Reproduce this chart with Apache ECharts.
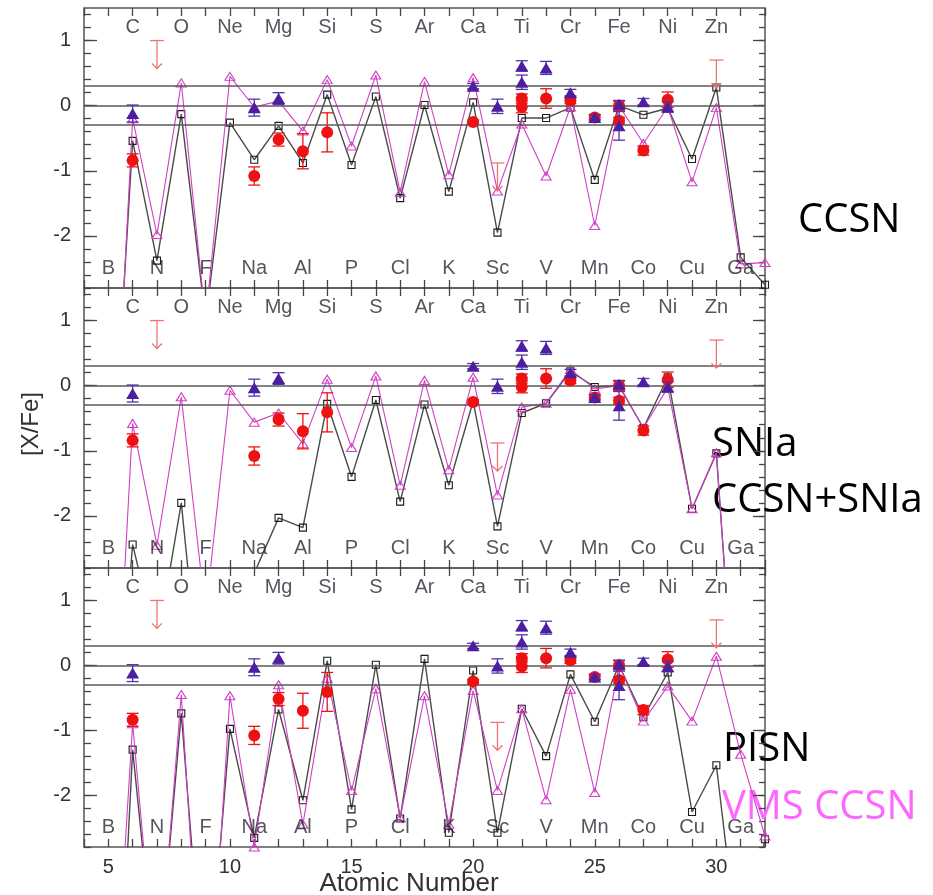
<!DOCTYPE html>
<html>
<head>
<meta charset="utf-8">
<script src="https://cdn.jsdelivr.net/npm/echarts@6/dist/echarts.min.js"></script>
<style>
  html, body { margin: 0; padding: 0; background: #ffffff; }
  #chart { width: 933px; height: 895px; }
</style>
</head>
<body>
<div id="chart"></div>
<script>
// ---- Element symbols for Z = 5 .. 31 (even Z printed along the top, odd Z along the bottom)
const elementZ = [5,6,7,8,9,10,11,12,13,14,15,16,17,18,19,20,21,22,23,24,25,26,27,28,29,30,31];
const elementNames = ['B','C','N','O','F','Ne','Na','Mg','Al','Si','P','S','Cl','Ar','K','Ca','Sc','Ti','V','Cr','Mn','Fe','Co','Ni','Cu','Zn','Ga'];

// ---- Model yields [X/Fe], Z = 5 .. 32
const modelZ = [5,6,7,8,9,10,11,12,13,14,15,16,17,18,19,20,21,22,23,24,25,26,27,28,29,30,31,32];
const ccsnSquares  = [-6.8,-0.54,-2.38,-0.13,-3.3,-0.26,-0.83,-0.31,-0.88,0.17,-0.91,0.14,-1.42,0.01,-1.32,0.05,-1.95,-0.19,-0.19,-0.03,-1.14,0.00,-0.14,-0.04,-0.82,0.28,-2.33,-2.75];
const ccsnTriangles = [-7.4,-0.20,-1.98,0.35,-3.3,0.45,-0.02,0.07,-0.39,0.40,-0.62,0.47,-1.33,0.37,-1.06,0.43,-1.31,-0.28,-1.08,-0.02,-1.84,0.00,-0.58,-0.02,-1.17,-0.03,-2.43,-2.41];
const snIa         = [-7.0,-2.44,-4.0,-1.80,-5.5,-5.0,-2.88,-2.03,-2.18,-0.28,-1.40,-0.22,-1.78,-0.29,-1.53,-0.24,-2.16,-0.42,-0.27,0.22,-0.02,0.00,-0.65,0.13,-1.89,-1.04,-6.3,-6.5];
const ccsnPlusSnIa = [-7.5,-0.58,-2.45,-0.17,-3.5,-0.07,-0.56,-0.42,-0.89,0.10,-0.95,0.15,-1.53,0.08,-1.29,0.13,-1.68,-0.33,-0.27,0.25,-0.05,0.00,-0.65,-0.03,-1.89,-1.03,-6.3,-6.5];
const pisn         = [-8.8,-1.30,-5.0,-0.74,-5.5,-0.98,-2.66,-0.68,-2.08,0.07,-2.22,0.01,-2.36,0.10,-2.58,-0.08,-2.58,-0.67,-1.40,-0.14,-0.87,0.00,-0.80,-0.11,-2.26,-1.54,-4.7,-2.68];
const vmsCcsn      = [-7.0,-0.90,-5.1,-0.45,-6.4,-0.47,-2.80,-0.30,-2.45,-0.20,-1.93,-0.36,-2.35,-0.47,-2.45,-0.39,-1.93,-0.67,-2.07,-0.37,-1.96,0.00,-0.86,-0.32,-0.86,0.14,-1.37,-2.63];

// ---- Observed abundances (same in every panel)
const obsRedZ   = [6, 11, 12, 13, 14, 20, 22, 22, 23, 24, 25, 26, 26, 27, 28];
const obsRedVal = [-0.84, -1.08, -0.52, -0.70, -0.41, -0.25, 0.11, -0.02, 0.11, 0.08, -0.18, 0.00, -0.23, -0.69, 0.09];
const obsRedErr = [0.10, 0.14, 0.10, 0.27, 0.30, 0.03, 0.07, 0.09, 0.15, 0.05, 0.04, 0.07, 0.05, 0.07, 0.12];

const obsBlueZ   = [6, 11, 12, 20, 21, 22, 22, 23, 24, 25, 26, 26, 27, 28];
const obsBlueVal = [-0.12, -0.03, 0.11, 0.30, -0.01, 0.61, 0.36, 0.58, 0.20, -0.18, 0.02, -0.31, 0.06, -0.02];
const obsBlueErr = [0.13, 0.13, 0.09, 0.04, 0.11, 0.08, 0.11, 0.10, 0.05, 0.04, 0.06, 0.22, 0.05, 0.08];

// upper limits
const limitZ   = [7, 21, 30];
const limitVal = [1.00, -0.88, 0.70];

// horizontal reference levels
const refLevels = [0.3, 0, -0.3];

// axis tick values
const yLabelValues = [-2, -1, 0, 1];
const yMinorValues = [];
for (let k = -14; k <= 7; k++) yMinorValues.push(Math.round(k * 20) / 100);

// ---- panel layout
const panels = [
  { top: 8,   height: 280, squares: ccsnSquares, triangles: ccsnTriangles },
  { top: 288, height: 280, squares: snIa,        triangles: ccsnPlusSnIa },
  { top: 568, height: 279, squares: pisn,        triangles: vmsCcsn }
];
const GRID_LEFT = 84, GRID_WIDTH = 681;
const Y_MIN = -2.8, Y_MAX = 1.5;
const TOP_LABEL_Y = 1.2, BOTTOM_LABEL_Y = -2.5;
const ARROW_DEX = 0.43;

const FONT = '"Liberation Sans", Arial, sans-serif';
const RED = '#ee1111', PURPLE = '#4b1fa0', LIMIT = '#f07474';
const MODEL_DARK = '#4a4a4a', MODEL_PINK = '#d23fc6';

function zip(xs, ys) { return xs.map((x, i) => [x, ys[i]]); }
function zip3(xs, ys, es) { return xs.map((x, i) => [x, ys[i], es[i]]); }

function errorBarItem(color) {
  return function (params, api) {
    const x = api.value(0), y = api.value(1), e = api.value(2);
    const hi = api.coord([x, y + e]);
    const lo = api.coord([x, y - e]);
    const w = 6;
    const style = { stroke: color, lineWidth: 1.3, fill: null };
    return { type: 'group', children: [
      { type: 'line', shape: { x1: hi[0], y1: hi[1], x2: lo[0], y2: lo[1] }, style: style },
      { type: 'line', shape: { x1: hi[0] - w, y1: hi[1], x2: hi[0] + w, y2: hi[1] }, style: style },
      { type: 'line', shape: { x1: lo[0] - w, y1: lo[1], x2: lo[0] + w, y2: lo[1] }, style: style }
    ]};
  };
}

function upperLimitItem(params, api) {
  const x = api.value(0), y = api.value(1);
  const cap = api.coord([x, y]);
  const tip = api.coord([x, y - ARROW_DEX]);
  const w = 7, h = 5, a = 5;
  const style = { stroke: LIMIT, lineWidth: 1.3, fill: null };
  return { type: 'group', children: [
    { type: 'line', shape: { x1: cap[0] - w, y1: cap[1], x2: cap[0] + w, y2: cap[1] }, style: style },
    { type: 'line', shape: { x1: cap[0], y1: cap[1], x2: tip[0], y2: tip[1] }, style: style },
    { type: 'polyline', shape: { points: [[tip[0] - a, tip[1] - h], [tip[0], tip[1]], [tip[0] + a, tip[1] - h]] }, style: style }
  ]};
}

const grids = [], xAxes = [], yAxes = [], series = [];

const labelData = elementZ.map((z, i) => [z, z % 2 === 0 ? TOP_LABEL_Y : BOTTOM_LABEL_Y, elementNames[i]]);

panels.forEach((p, g) => {
  grids.push({
    left: GRID_LEFT, top: p.top, width: GRID_WIDTH, height: p.height,
    show: true, borderColor: '#555', borderWidth: 1.5, backgroundColor: 'transparent'
  });

  const tickStyle = { color: '#444', width: 1.3 };
  ['bottom', 'top'].forEach(pos => {
    xAxes.push({
      gridIndex: g, type: 'value', position: pos, min: 4, max: 32, interval: 1,
      axisLine: { show: false, onZero: false },
      axisTick: { show: true, inside: true, length: 8, lineStyle: tickStyle },
      axisLabel: {
        show: g === 2 && pos === 'bottom', margin: 10,
        fontSize: 20, fontFamily: FONT, color: '#333',
        formatter: v => (v % 5 === 0 ? String(v) : '')
      },
      splitLine: { show: false }
    });
  });

  [['left', 7, true], ['left', 13, false], ['right', 6, false], ['right', 12, false]].forEach(([pos, len, labels]) => {
    yAxes.push({
      gridIndex: g, type: 'value', position: pos, min: Y_MIN, max: Y_MAX,
      axisLine: { show: false, onZero: false },
      axisTick: { show: true, inside: true, length: len, lineStyle: tickStyle,
                  customValues: (len > 10 ? yLabelValues : yMinorValues) },
      axisLabel: {
        show: labels, margin: 13, fontSize: 20, fontFamily: FONT, color: '#333',
        customValues: yLabelValues, formatter: v => String(Math.round(v))
      },
      splitLine: { show: false }
    });
  });

  const xi = 2 * g, yi = 4 * g;

  // model: open squares
  series.push({
    type: 'line', xAxisIndex: xi, yAxisIndex: yi, z: 2,
    data: zip(modelZ, p.squares),
    symbol: 'rect', symbolSize: 7,
    itemStyle: { color: 'transparent', borderColor: '#1a1a1a', borderWidth: 1.1 },
    lineStyle: { color: MODEL_DARK, width: 1.4 },
    clip: true, silent: true,
    markLine: {
      silent: true, symbol: ['none', 'none'], label: { show: false },
      lineStyle: { color: '#5a5a5a', width: 1.5, type: 'solid' },
      data: refLevels.map(v => ({ yAxis: v }))
    }
  });
  // model: open triangles
  series.push({
    type: 'line', xAxisIndex: xi, yAxisIndex: yi, z: 3,
    data: zip(modelZ, p.triangles),
    symbol: 'triangle', symbolSize: [10, 8],
    itemStyle: { color: 'transparent', borderColor: MODEL_PINK, borderWidth: 1.1 },
    lineStyle: { color: MODEL_PINK, width: 1.1 },
    clip: true, silent: true
  });

  // observations: red circles with error bars
  series.push({
    type: 'custom', xAxisIndex: xi, yAxisIndex: yi, z: 4, silent: true,
    data: zip3(obsRedZ, obsRedVal, obsRedErr), encode: { x: 0, y: 1 },
    renderItem: errorBarItem(RED)
  });
  series.push({
    type: 'scatter', xAxisIndex: xi, yAxisIndex: yi, z: 5, silent: true,
    data: zip(obsRedZ, obsRedVal), symbol: 'circle', symbolSize: 12,
    itemStyle: { color: RED, opacity: 1 }
  });
  // observations: purple triangles with error bars
  series.push({
    type: 'custom', xAxisIndex: xi, yAxisIndex: yi, z: 6, silent: true,
    data: zip3(obsBlueZ, obsBlueVal, obsBlueErr), encode: { x: 0, y: 1 },
    renderItem: errorBarItem('#5530b0')
  });
  series.push({
    type: 'scatter', xAxisIndex: xi, yAxisIndex: yi, z: 7, silent: true,
    data: zip(obsBlueZ, obsBlueVal), symbol: 'triangle', symbolSize: [13, 11],
    itemStyle: { color: PURPLE, opacity: 1 }
  });
  // upper limits
  series.push({
    type: 'custom', xAxisIndex: xi, yAxisIndex: yi, z: 8, silent: true,
    data: zip(limitZ, limitVal), encode: { x: 0, y: 1 },
    renderItem: upperLimitItem
  });
  // element names
  series.push({
    type: 'scatter', xAxisIndex: xi, yAxisIndex: yi, z: 9, silent: true,
    data: labelData, symbol: 'circle', symbolSize: 1,
    itemStyle: { color: 'transparent' },
    label: {
      show: true, position: 'inside', formatter: q => q.data[2],
      fontSize: 20, fontFamily: FONT, color: '#2a2a36'
    }
  });
});

const annoFont = '"Open Sans", "Noto Sans", sans-serif';
const option = {
  backgroundColor: '#ffffff',
  animation: false,
  grid: grids,
  xAxis: xAxes,
  yAxis: yAxes,
  series: series,
  graphic: [
    { type: 'text', x: 409, y: 884, style: { text: 'Atomic Number', font: '26px ' + FONT, fill: '#333', textAlign: 'center', textVerticalAlign: 'middle' } },
    { type: 'text', x: 31, y: 424, rotation: Math.PI / 2, style: { text: '[X/Fe]', font: '24px ' + FONT, fill: '#333', textAlign: 'center', textVerticalAlign: 'middle' } },
    { type: 'text', x: 798, y: 221, style: { text: 'CCSN', font: '40px ' + annoFont, fill: '#000', textVerticalAlign: 'middle' } },
    { type: 'text', x: 712, y: 445, style: { text: 'SNIa', font: '40px ' + annoFont, fill: '#000', textVerticalAlign: 'middle' } },
    { type: 'text', x: 712, y: 501, style: { text: 'CCSN+SNIa', font: '40px ' + annoFont, fill: '#000', textVerticalAlign: 'middle' } },
    { type: 'text', x: 723, y: 750, style: { text: 'PISN', font: '40px ' + annoFont, fill: '#000', textVerticalAlign: 'middle' } },
    { type: 'text', x: 722, y: 808, style: { text: 'VMS CCSN', font: '40px ' + annoFont, fill: '#ff66ff', textVerticalAlign: 'middle' } }
  ]
};

const chart = echarts.init(document.getElementById('chart'), null, { renderer: 'canvas' });
chart.setOption(option);
</script>
</body>
</html>
